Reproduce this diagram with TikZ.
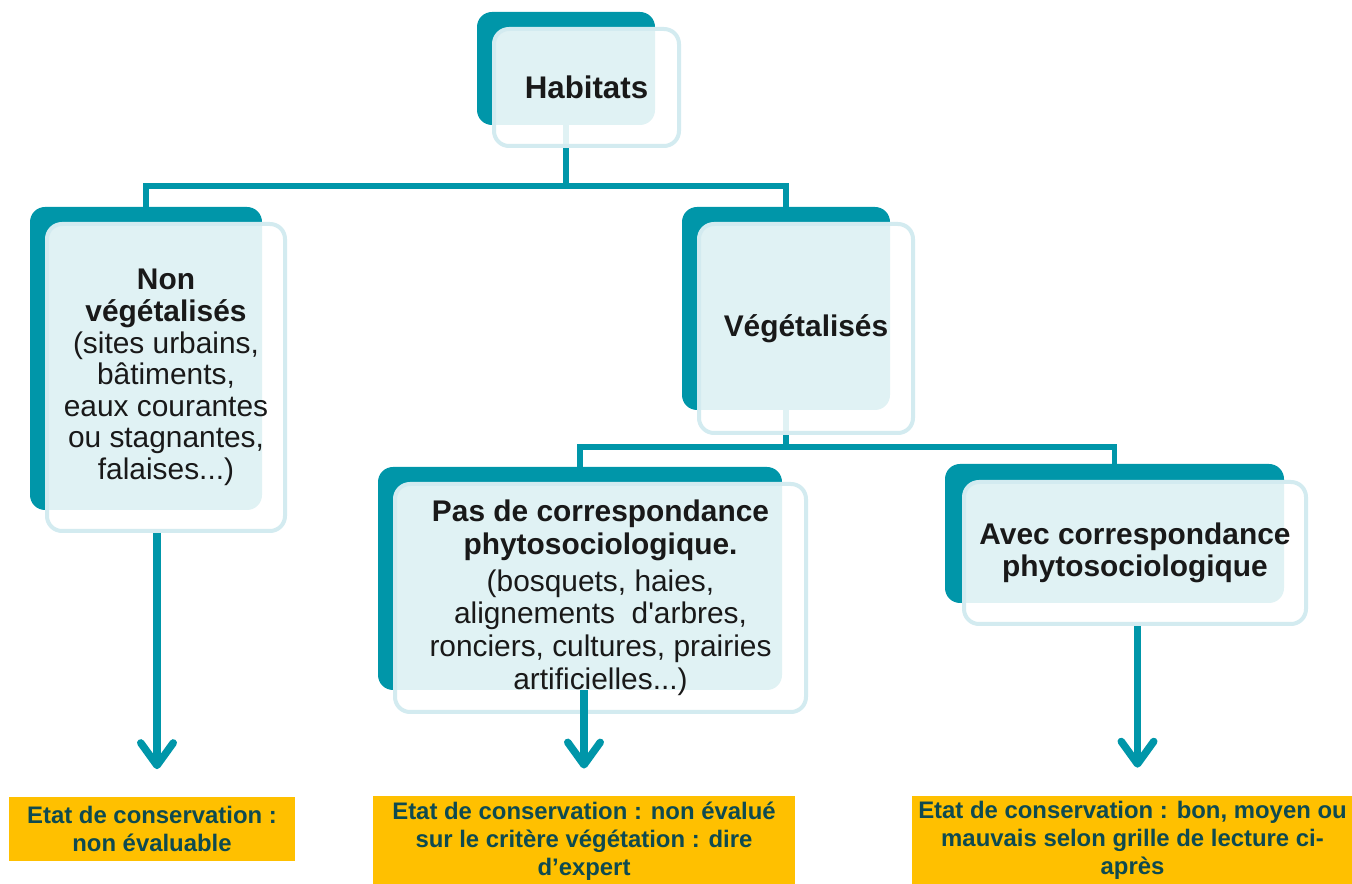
\documentclass[tikz,border=0pt]{standalone}
\usepackage{fontspec}
\setmainfont{Liberation Sans}
\usetikzlibrary{calc, arrows.meta}
\definecolor{teal}{HTML}{0096A9}
\definecolor{paleline}{HTML}{D3EBF0}
\definecolor{gold}{HTML}{FFC000}
\definecolor{darkink}{HTML}{0E4A50}

\begin{document}
\begin{tikzpicture}[
		>={Straight Barb[length=4.5mm, width=6.5mm, line cap=round, line join=round]},
		backbox/.style={fill=teal, draw=none, rounded corners=3mm},
		frontbox/.style={
			draw=paleline, line width=0.8mm, fill=white, fill opacity=0.88,
			text opacity=1, rounded corners=3mm, align=center,
			font=\fontsize{17}{18}\selectfont, text=black!90
		},
		link/.style={draw=teal, line width=1.1mm},
		downarrow/.style={draw=teal, line width=1.5mm, ->, shorten >=5.5mm},
		etat/.style={fill=gold, align=center, text=darkink,
			font=\bfseries\fontsize{13.6}{15.9}\selectfont}
		]
		
		\useasboundingbox (0,0) rectangle (27.04,-17.68);
		
		% ==========================================
		% BACK BOXES (teal)
		% ==========================================
		\node[backbox, minimum width=3.56cm, minimum height=2.26cm] (habbg) at (11.32,-1.37) {};
		\node[backbox, minimum width=4.64cm, minimum height=6.06cm] (nonvegbg) at (2.92,-7.17) {};
		\node[backbox, minimum width=4.16cm, minimum height=4.06cm] (vegbg) at (15.72,-6.17) {};
		\node[backbox, minimum width=8.08cm, minimum height=4.46cm] (pasbg) at (11.60,-11.57) {};
		\node[backbox, minimum width=6.78cm, minimum height=2.78cm] (avecbg) at (22.29,-10.67) {};
		
		% ==========================================
		% TREE LINKS
		% ==========================================
		
		% Habitats -> two branches
		\coordinate (j1) at (11.32,-3.72);
		\draw[link] (habbg.south) -- (j1);
		\draw[link] (j1) -| (nonvegbg.north);
		\draw[link] (j1) -| (vegbg.north);
		
		% Vegetalises -> two branches
		\coordinate (j2) at (15.72,-8.94);
		\draw[link] (vegbg.south) -- (j2);
		\draw[link] (j2) -| (pasbg.north);
		\draw[link] (j2) -| (avecbg.north);
		
		% ==========================================
		% FRONT BOXES (text)
		% ==========================================
		\node[frontbox, minimum width=3.70cm, minimum height=2.34cm] (hab) at (11.73,-1.75)
		{\bfseries\fontsize{17.8}{18}\selectfont Habitats};
		
		\node[frontbox, minimum width=4.76cm, minimum height=6.14cm] (nonveg) at (3.32,-7.55) {
			\bfseries Non\\
			\bfseries végétalisés\\
			(sites urbains,\\
			bâtiments,\\
			eaux courantes\\
			ou stagnantes,\\
			falaises...)
		};
		
		\node[frontbox, minimum width=4.28cm, minimum height=4.18cm] (veg) at (16.12,-6.57)
		{\bfseries Végétalisés};
		
		\node[frontbox, minimum width=8.22cm, minimum height=4.56cm,
		font=\fontsize{17}{18.7}\selectfont] (pas) at (12.01,-11.96) {
			\bfseries Pas de correspondance\\
			\bfseries phytosociologique.\\[2pt]
			(bosquets, haies,\\
			alignements\ \ d\textquotesingle arbres,\\
			ronciers, cultures, prairies\\
			artificielles...)
		};
		
		\node[frontbox, minimum width=6.84cm, minimum height=2.84cm] (avec) at (22.70,-11.06) {
			\bfseries Avec correspondance\\
			\bfseries phytosociologique
		};
		
		% ==========================================
		% RESULTS (conservation state)
		% ==========================================
		\node[etat, minimum width=5.72cm, minimum height=1.28cm] (etat1) at (3.04,-16.58)
		{Etat de conservation :\\non évaluable};
		\node[etat, minimum width=8.44cm, minimum height=1.70cm] (etat2) at (11.68,-16.83)
		{Etat de conservation : non évalué\\sur le critère végétation : dire\\d’expert};
		\node[etat, minimum width=8.78cm, minimum height=1.74cm] (etat3) at (22.65,-16.81)
		{Etat de conservation : bon, moyen ou\\mauvais selon grille de lecture ci-\\après};
		
		% Arrows down to the results
		\draw[downarrow] ($(nonveg.south -| etat1.north)+(0.1,0)$) -- ($(etat1.north)+(0.1,0)$);
		\draw[downarrow] (pasbg.south -| etat2.north) -- (etat2.north);
		\draw[downarrow] ($(avec.south -| etat3.north)+(0.1,0)$) -- ($(etat3.north)+(0.1,0)$);
		
	\end{tikzpicture}
\end{document}
